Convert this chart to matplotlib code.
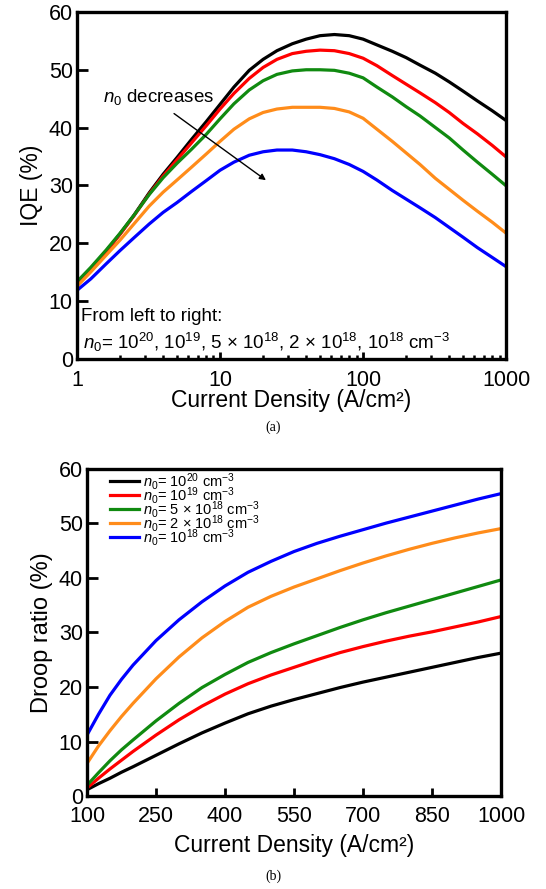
"""IQE vs current density (log scale) and droop ratio vs current density
for five background doping levels n0, drawn as two stacked panels (a), (b).
Values were read off the published figure by eye.
"""
import matplotlib

matplotlib.use("Agg")
import matplotlib.pyplot as plt
from matplotlib.ticker import FixedLocator, LogLocator, NullFormatter

plt.rcParams["font.family"] = ["Liberation Sans", "DejaVu Sans"]
plt.rcParams["mathtext.fontset"] = "custom"
plt.rcParams["mathtext.rm"] = "Liberation Sans"
plt.rcParams["mathtext.it"] = "Liberation Sans:italic"
plt.rcParams["mathtext.default"] = "regular"

# --- panel (a): IQE (%) vs current density (A/cm^2), log x ---
iqe_j = [1, 1.25, 1.6, 2, 2.5, 3.2, 4, 5, 6.3, 8, 10, 12.5, 16, 20, 25, 32, 40, 50, 63, 80,
         100, 125, 160, 200, 250, 320, 400, 500, 630, 800, 1000]
iqe_1e20 = [13.0, 15.6, 18.6, 21.6, 24.8, 28.7, 31.9, 34.8, 37.9, 41.0, 44.0, 47.0, 49.9, 51.8, 53.3, 54.5,
            55.3, 55.9, 56.1, 55.9, 55.3, 54.3, 53.2, 52.1, 50.8, 49.4, 47.9, 46.3, 44.6, 42.9, 41.2]
iqe_1e19 = [12.8, 15.5, 18.5, 21.5, 24.7, 28.5, 31.6, 34.4, 37.3, 40.3, 43.2, 45.9, 48.5, 50.4, 51.8, 52.8,
            53.2, 53.4, 53.3, 52.8, 52.0, 50.7, 49.0, 47.5, 46.0, 44.3, 42.6, 40.7, 38.9, 36.9, 34.9]
iqe_5e18 = [13.3, 15.8, 18.8, 21.7, 24.8, 28.4, 31.3, 33.8, 36.2, 38.8, 41.5, 44.1, 46.5, 48.1, 49.2, 49.8,
            50.0, 50.0, 49.9, 49.4, 48.6, 47.0, 45.3, 43.6, 42.0, 40.0, 38.2, 36.1, 34.0, 31.9, 29.9]
iqe_2e18 = [12.5, 15.0, 17.9, 20.5, 23.3, 26.4, 28.8, 30.9, 33.1, 35.4, 37.6, 39.7, 41.5, 42.6, 43.2, 43.5,
            43.5, 43.5, 43.3, 42.7, 41.6, 39.7, 37.6, 35.6, 33.6, 31.2, 29.3, 27.4, 25.5, 23.6, 21.7]
iqe_1e18 = [11.8, 13.8, 16.4, 18.7, 20.9, 23.3, 25.3, 27.0, 28.9, 30.8, 32.6, 34.0, 35.2, 35.8, 36.1, 36.1,
            35.8, 35.3, 34.6, 33.6, 32.4, 30.9, 29.1, 27.6, 26.1, 24.4, 22.7, 21.0, 19.2, 17.5, 15.9]

# --- panel (b): droop ratio (%) vs current density (A/cm^2) ---
droop_j = [100, 125, 150, 175, 200, 250, 300, 350, 400, 450, 500, 550, 600, 650, 700, 750, 800, 850,
           900, 950, 1000]
droop_1e20 = [1.2, 2.3, 3.3, 4.4, 5.4, 7.5, 9.6, 11.6, 13.4, 15.1, 16.5, 17.7, 18.8, 19.9, 20.9, 21.8,
              22.7, 23.6, 24.5, 25.4, 26.2]
droop_1e19 = [1.5, 3.3, 5.0, 6.6, 8.2, 11.2, 14.0, 16.5, 18.7, 20.6, 22.2, 23.6, 25.0, 26.3, 27.4, 28.4,
              29.3, 30.1, 31.0, 31.9, 32.9]
droop_5e18 = [2.0, 4.3, 6.5, 8.5, 10.3, 13.8, 17.0, 19.9, 22.3, 24.5, 26.3, 27.9, 29.4, 30.9, 32.3, 33.6,
              34.8, 36.0, 37.2, 38.4, 39.6]
droop_2e18 = [6.0, 9.2, 12.0, 14.6, 17.0, 21.5, 25.5, 29.0, 32.0, 34.6, 36.6, 38.3, 39.8, 41.3, 42.7,
              44.0, 45.2, 46.3, 47.3, 48.2, 49.0]
droop_1e18 = [11.2, 15.0, 18.5, 21.4, 24.0, 28.5, 32.3, 35.6, 38.5, 41.0, 43.0, 44.8, 46.3, 47.6, 48.8,
              50.0, 51.1, 52.2, 53.3, 54.4, 55.4]

series_colors = ["#000000", "#ff0000", "#108a10", "#ff8c1a", "#0000ff"]
legend_labels = [
    r"$\mathit{n_0}$= 10$^{20}$ cm$^{-3}$",
    r"$\mathit{n_0}$= 10$^{19}$ cm$^{-3}$",
    r"$\mathit{n_0}$= 5 × 10$^{18}$ cm$^{-3}$",
    r"$\mathit{n_0}$= 2 × 10$^{18}$ cm$^{-3}$",
    r"$\mathit{n_0}$= 10$^{18}$ cm$^{-3}$",
]
x_ticks_b = [100, 250, 400, 550, 700, 850, 1000]
y_ticks = [0, 10, 20, 30, 40, 50, 60]


def style_axes(ax):
    for spine in ax.spines.values():
        spine.set_linewidth(2.4)
    ax.tick_params(axis="both", which="both", direction="in", top=False, right=False,
                   labelsize=15.5, width=2.0, pad=3)
    ax.tick_params(axis="y", which="major", length=8)
    ax.set_ylim(0, 60)
    ax.set_yticks(y_ticks)


def draw_iqe(ax):
    for vals, color in zip([iqe_1e20, iqe_1e19, iqe_5e18, iqe_2e18, iqe_1e18], series_colors):
        ax.plot(iqe_j, vals, color=color, linewidth=2.3)
    ax.set_xscale("log")
    ax.set_xlim(1, 1000)
    ax.xaxis.set_major_locator(FixedLocator([1, 10, 100, 1000]))
    ax.set_xticklabels(["1", "10", "100", "1000"])
    ax.xaxis.set_minor_locator(LogLocator(base=10, subs=range(2, 10)))
    ax.xaxis.set_minor_formatter(NullFormatter())
    style_axes(ax)
    ax.tick_params(axis="x", which="major", length=5, pad=8)
    ax.tick_params(axis="x", which="minor", length=3, width=1.8)
    ax.set_ylabel("IQE (%)", fontsize=16.5, labelpad=4)
    ax.set_xlabel("Current Density (A/cm²)", fontsize=16.5, labelpad=-1)

    ax.annotate("", xy=(21.7, 30.6), xytext=(4.6, 42.7),
                arrowprops=dict(arrowstyle="-|>", color="black", lw=1.0, mutation_scale=9))
    ax.text(1.52, 45.3, r"$\mathit{n_0}$ decreases", fontsize=13.5, ha="left", va="center")
    ax.text(1.07, 7.3, "From left to right:", fontsize=13.5, ha="left", va="center")
    ax.text(1.1, 2.8,
            r"$\mathit{n_0}$= 10$^{20}$, 10$^{19}$, 5 × 10$^{18}$, 2 × 10$^{18}$, 10$^{18}$ cm$^{-3}$",
            fontsize=13.5, ha="left", va="center")


def draw_droop(ax):
    for vals, color, label in zip([droop_1e20, droop_1e19, droop_5e18, droop_2e18, droop_1e18],
                                  series_colors, legend_labels):
        ax.plot(droop_j, vals, color=color, linewidth=2.3, label=label)
    ax.set_xlim(100, 1000)
    ax.set_xticks(x_ticks_b)
    style_axes(ax)
    ax.tick_params(axis="x", which="major", length=6, pad=7)
    ax.set_ylabel("Droop ratio (%)", fontsize=17, labelpad=4)
    ax.set_xlabel("Current Density (A/cm²)", fontsize=16.5, labelpad=5)
    ax.legend(loc="upper left", frameon=False, fontsize=10.5, handlelength=2.0,
              handletextpad=0.3, labelspacing=-0.48, borderaxespad=0.3,
              bbox_to_anchor=(0.03, 1.025))


def main():
    fig = plt.figure(figsize=(5.46, 8.89), dpi=100)
    ax_a = fig.add_axes([0.141, 0.5967, 0.786, 0.3898])
    ax_b = fig.add_axes([0.1593, 0.1043, 0.7583, 0.3687])
    draw_iqe(ax_a)
    draw_droop(ax_b)
    fig.text(0.5, 1 - 427 / 889, "(a)", family="Liberation Serif", fontsize=10, ha="center", va="center")
    fig.text(0.5, 1 - 876 / 889, "(b)", family="Liberation Serif", fontsize=10, ha="center", va="center")
    fig.savefig("out.png", dpi=100)
    plt.close(fig)


if __name__ == "__main__":
    main()
